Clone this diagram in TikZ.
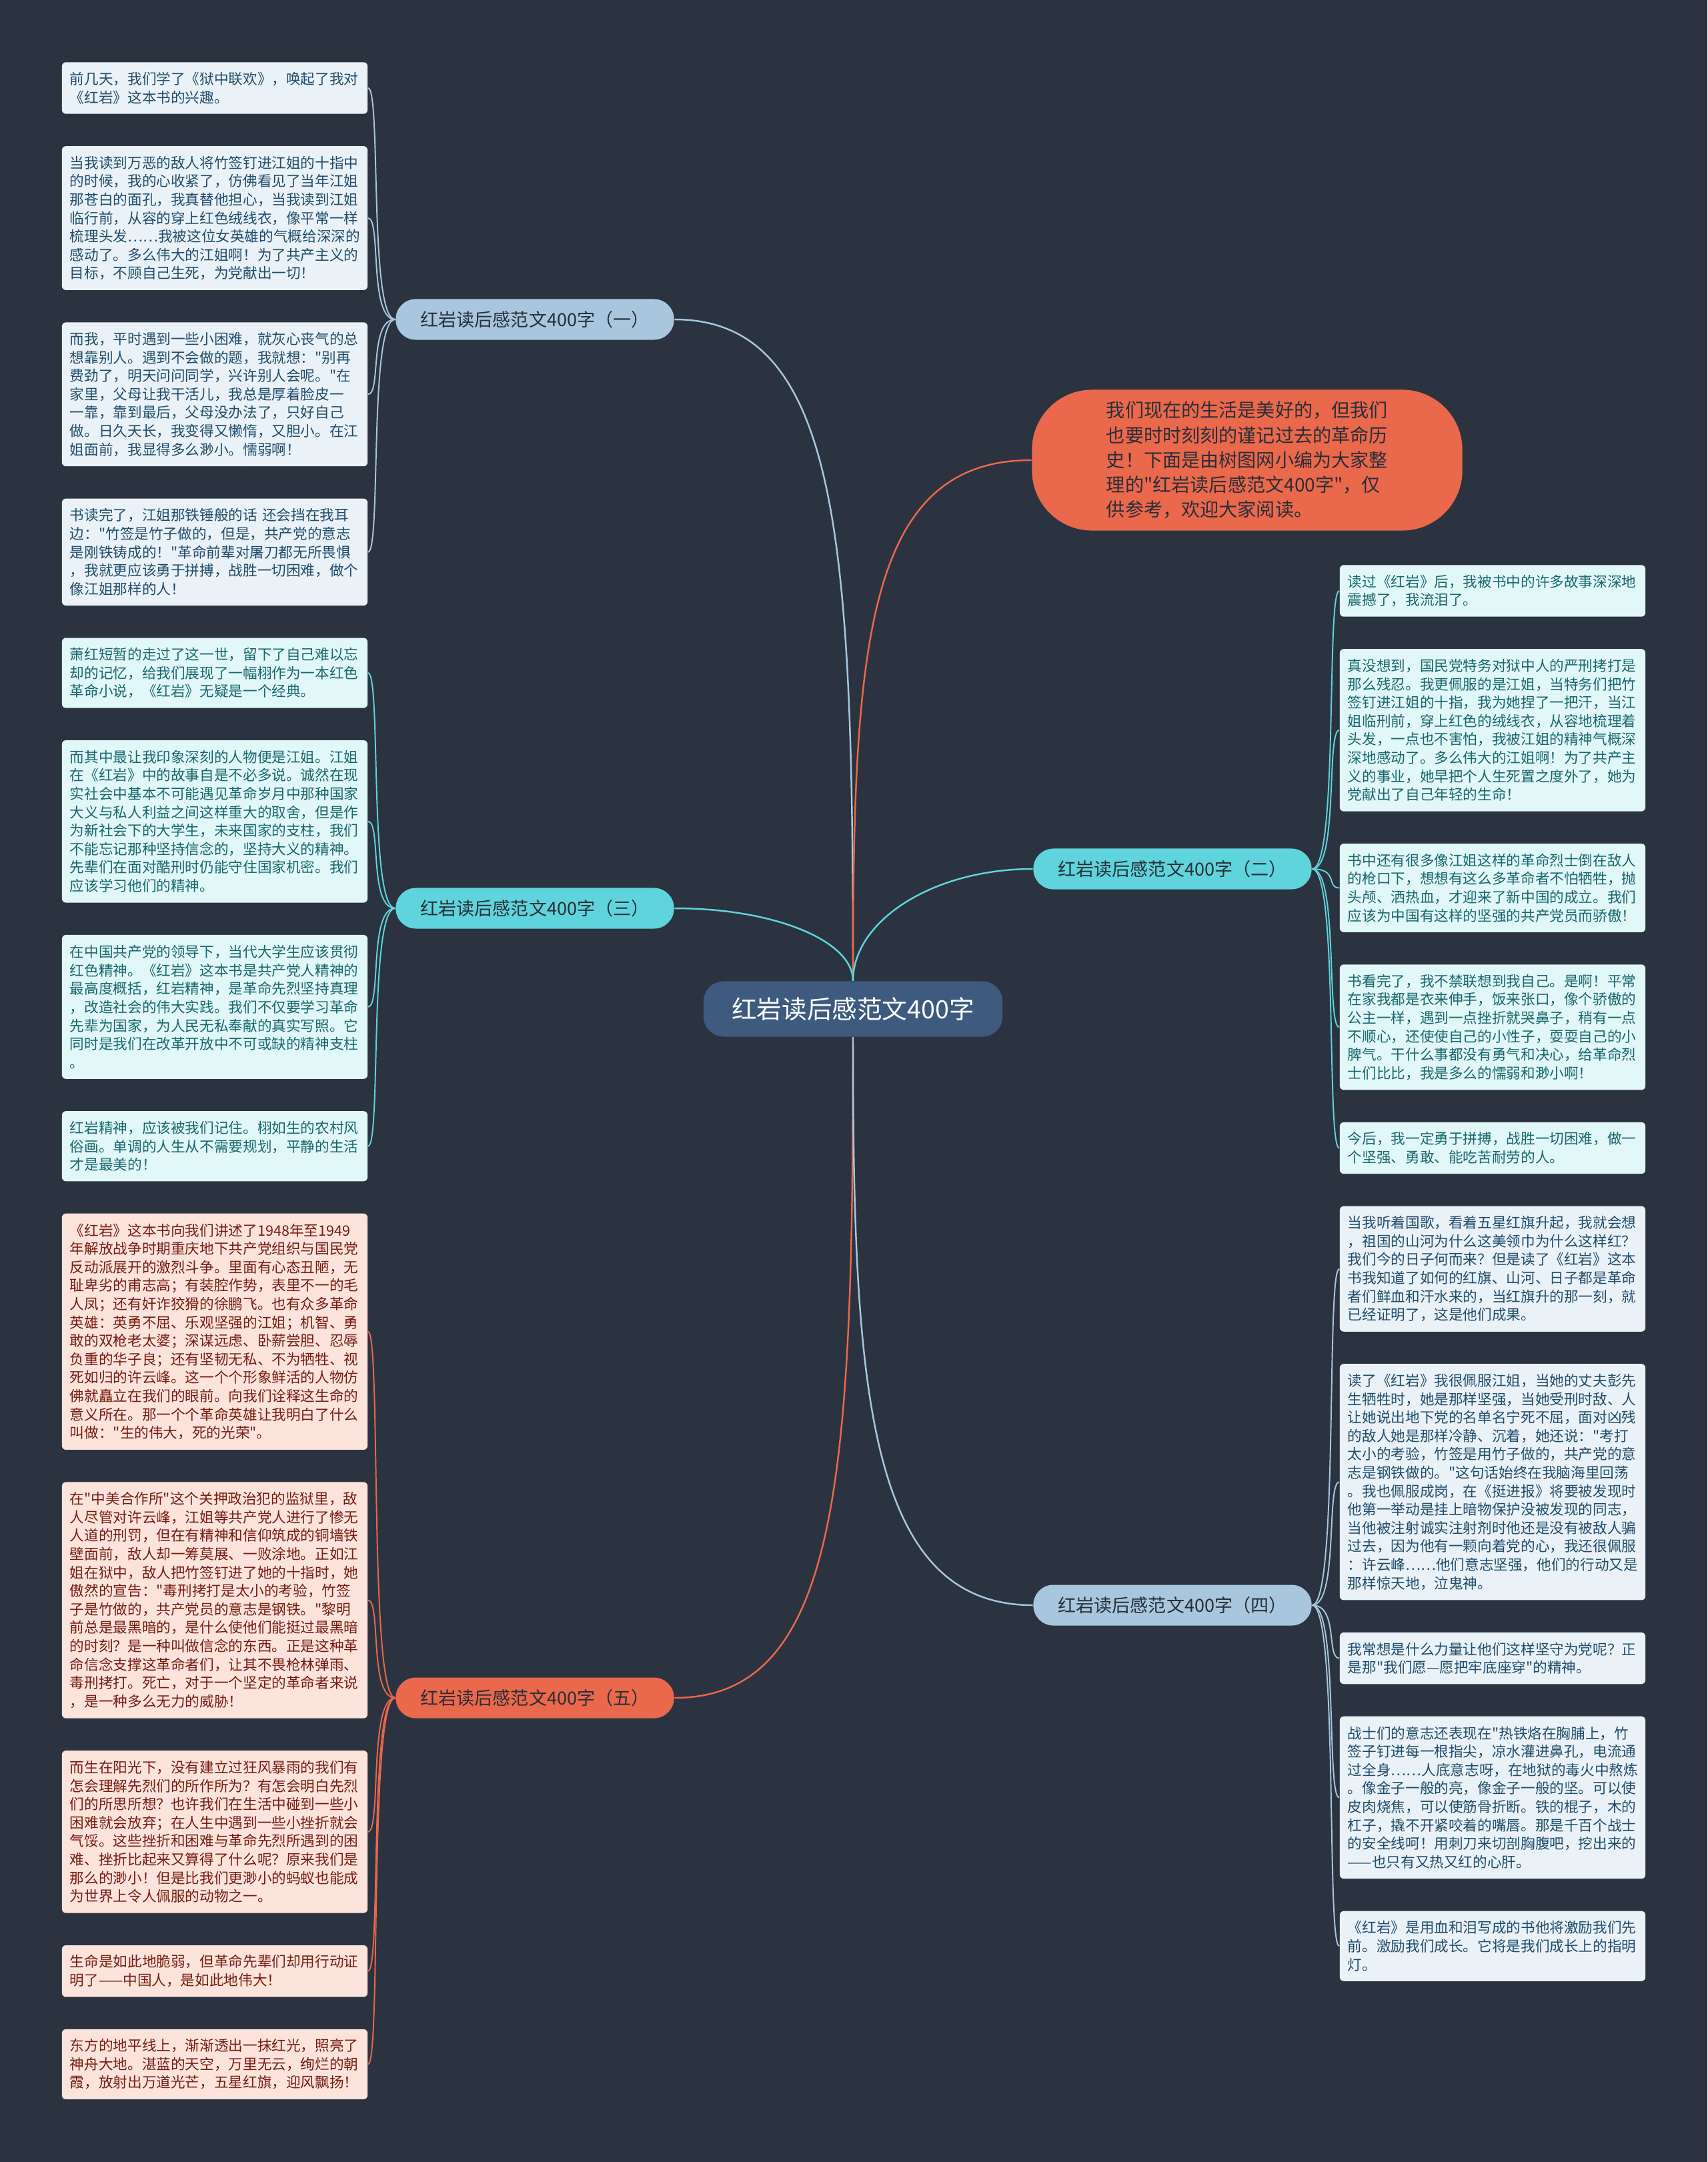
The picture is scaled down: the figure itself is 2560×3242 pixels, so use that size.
\documentclass[tikz,border=0pt]{standalone}
\usepackage{fontspec}
\newfontfamily\cjkfont{Noto Sans CJK SC}
\usepackage{tikz}
\usetikzlibrary{positioning, backgrounds}
\definecolor{bgdark}{RGB}{43,51,64}
\definecolor{rootblue}{RGB}{62,90,126}
\definecolor{branchblue}{RGB}{168,199,222}
\definecolor{branchcyan}{RGB}{96,212,220}
\definecolor{branchred}{RGB}{234,104,76}
\definecolor{leafblue}{RGB}{234,242,248}
\definecolor{leafcyan}{RGB}{226,247,248}
\definecolor{leafred}{RGB}{252,228,220}
\definecolor{textblue}{RGB}{32,76,106}
\definecolor{textcyan}{RGB}{22,104,108}
\definecolor{textred}{RGB}{118,28,16}
\definecolor{textdark}{RGB}{40,46,56}
\tikzset{
  root_node/.style={rectangle, fill=rootblue, text=white, rounded corners=3mm, minimum width=4.48cm, minimum height=0.83cm, inner sep=0pt, font=\cjkfont\fontsize{10.7pt}{12pt}\selectfont},
  intro_node/.style={rectangle, fill=branchred, text=textdark, rounded corners=9mm, minimum width=6.45cm, minimum height=2.11cm, align=left, text width=4.22cm, font=\cjkfont\fontsize{8pt}{10.6pt}\selectfont},
  branch_blue/.style={rectangle, fill=branchblue, text=textdark, rounded corners=3mm, minimum width=4.17cm, minimum height=0.61cm, inner sep=0pt, font=\cjkfont\fontsize{7.7pt}{9pt}\selectfont},
  branch_cyan/.style={branch_blue, fill=branchcyan},
  branch_red/.style={branch_blue, fill=branchred},
  leaf_blue/.style={rectangle, fill=leafblue, text=textblue, rounded corners=0.6mm, align=left, text width=4.34cm, inner xsep=0.12cm, inner ysep=0.06cm, minimum width=4.58cm, font=\cjkfont\fontsize{6.15pt}{7.85pt}\selectfont},
  leaf_cyan/.style={leaf_blue, fill=leafcyan, text=textcyan},
  leaf_red/.style={leaf_blue, fill=leafred, text=textred},
  nlines/.style={minimum height=#1*0.2767cm+0.22cm},
  link_blue/.style={draw=branchblue, line width=0.7pt},
  link_cyan/.style={draw=branchcyan, line width=0.7pt},
  link_red/.style={draw=branchred, line width=0.7pt},
  twig_blue/.style={draw=branchblue, line width=0.55pt},
  twig_cyan/.style={draw=branchcyan, line width=0.55pt},
  twig_red/.style={draw=branchred, line width=0.55pt}
}
\pgfdeclarelayer{bglayer}
\pgfsetlayers{bglayer, background, main}

\begin{document}
\begin{tikzpicture}[x=0.01cm, y=-0.01cm]
      % --- 0. Canvas ---
      \begin{pgfonlayer}{bglayer}
        \fill[bgdark] (0,0) rectangle (2560,3242);
      \end{pgfonlayer}

      % --- 1. Root, intro and branches ---
      \node[root_node] (root) at (1279,1513) {红岩读后感范文400字};
      \node[intro_node] (intro) at (1870,690) {我们现在的生活是美好的，但我们\\也要时时刻刻的谨记过去的革命历\\史！下面是由树图网小编为大家整\\理的"红岩读后感范文400字"，仅\\供参考，欢迎大家阅读。};

      \node[branch_blue] (b1) at (802,479) {红岩读后感范文400字（一）};
      \node[branch_cyan] (b3) at (802,1362) {红岩读后感范文400字（三）};
      \node[branch_red] (b5) at (802,2546) {红岩读后感范文400字（五）};
      \node[branch_cyan] (b2) at (1758,1303) {红岩读后感范文400字（二）};
      \node[branch_blue] (b4) at (1758,2407) {红岩读后感范文400字（四）};

      % --- 2. Left column (one, three, five) ---
      \node[leaf_blue, nlines=2] (l1) at (322,132) {前几天，我们学了《狱中联欢》，唤起了我对\\《红岩》这本书的兴趣。};
      \node[leaf_blue, nlines=7, below=0.47cm of l1] (l2) {当我读到万恶的敌人将竹签钉进江姐的十指中\\的时候，我的心收紧了，仿佛看见了当年江姐\\那苍白的面孔，我真替他担心，当我读到江姐\\临行前，从容的穿上红色绒线衣，像平常一样\\梳理头发……我被这位女英雄的气概给深深的\\感动了。多么伟大的江姐啊！为了共产主义的\\目标，不顾自己生死，为党献出一切！};
      \node[leaf_blue, nlines=7, below=0.47cm of l2] (l3) {而我，平时遇到一些小困难，就灰心丧气的总\\想靠别人。遇到不会做的题，我就想："别再\\费劲了，明天问问同学，兴许别人会呢。"在\\家里，父母让我干活儿，我总是厚着脸皮一\\一靠，靠到最后，父母没办法了，只好自己\\做。日久天长，我变得又懒惰，又胆小。在江\\姐面前，我显得多么渺小。懦弱啊！};
      \node[leaf_blue, nlines=5, below=0.47cm of l3] (l4) {书读完了，江姐那铁锤般的话~还会挡在我耳\\边："竹签是竹子做的，但是，共产党的意志\\是刚铁铸成的！"革命前辈对屠刀都无所畏惧\\，我就更应该勇于拼搏，战胜一切困难，做个\\像江姐那样的人！};

      \node[leaf_cyan, nlines=3, below=0.47cm of l4] (l5) {萧红短暂的走过了这一世，留下了自己难以忘\\却的记忆，给我们展现了一幅栩作为一本红色\\革命小说，《红岩》无疑是一个经典。};
      \node[leaf_cyan, nlines=8, below=0.47cm of l5] (l6) {而其中最让我印象深刻的人物便是江姐。江姐\\在《红岩》中的故事自是不必多说。诚然在现\\实社会中基本不可能遇见革命岁月中那种国家\\大义与私人利益之间这样重大的取舍，但是作\\为新社会下的大学生，未来国家的支柱，我们\\不能忘记那种坚持信念的，坚持大义的精神。\\先辈们在面对酷刑时仍能守住国家机密。我们\\应该学习他们的精神。};
      \node[leaf_cyan, nlines=7, below=0.47cm of l6] (l7) {在中国共产党的领导下，当代大学生应该贯彻\\红色精神。《红岩》这本书是共产党人精神的\\最高度概括，红岩精神，是革命先烈坚持真理\\，改造社会的伟大实践。我们不仅要学习革命\\先辈为国家，为人民无私奉献的真实写照。它\\同时是我们在改革开放中不可或缺的精神支柱\\。};
      \node[leaf_cyan, nlines=3, below=0.47cm of l7] (l8) {红岩精神，应该被我们记住。栩如生的农村风\\俗画。单调的人生从不需要规划，平静的生活\\才是最美的！};

      \node[leaf_red, nlines=12, below=0.47cm of l8] (l9) {《红岩》这本书向我们讲述了1948年至1949\\年解放战争时期重庆地下共产党组织与国民党\\反动派展开的激烈斗争。里面有心态丑陋，无\\耻卑劣的甫志高；有装腔作势，表里不一的毛\\人凤；还有奸诈狡猾的徐鹏飞。也有众多革命\\英雄：英勇不屈、乐观坚强的江姐；机智、勇\\敢的双枪老太婆；深谋远虑、卧薪尝胆、忍辱\\负重的华子良；还有坚韧无私、不为牺牲、视\\死如归的许云峰。这一个个形象鲜活的人物仿\\佛就矗立在我们的眼前。向我们诠释这生命的\\意义所在。那一个个革命英雄让我明白了什么\\叫做："生的伟大，死的光荣"。};
      \node[leaf_red, nlines=12, below=0.47cm of l9] (l10) {在"中美合作所"这个关押政治犯的监狱里，敌\\人尽管对许云峰，江姐等共产党人进行了惨无\\人道的刑罚，但在有精神和信仰筑成的铜墙铁\\壁面前，敌人却一筹莫展、一败涂地。正如江\\姐在狱中，敌人把竹签钉进了她的十指时，她\\傲然的宣告："毒刑拷打是太小的考验，竹签\\子是竹做的，共产党员的意志是钢铁。"黎明\\前总是最黑暗的，是什么使他们能挺过最黑暗\\的时刻？是一种叫做信念的东西。正是这种革\\命信念支撑这革命者们，让其不畏枪林弹雨、\\毒刑拷打。死亡，对于一个坚定的革命者来说\\，是一种多么无力的威胁！};
      \node[leaf_red, nlines=8, below=0.47cm of l10] (l11) {而生在阳光下，没有建立过狂风暴雨的我们有\\怎会理解先烈们的所作所为？有怎会明白先烈\\们的所思所想？也许我们在生活中碰到一些小\\困难就会放弃；在人生中遇到一些小挫折就会\\气馁。这些挫折和困难与革命先烈所遇到的困\\难、挫折比起来又算得了什么呢？原来我们是\\那么的渺小！但是比我们更渺小的蚂蚁也能成\\为世界上令人佩服的动物之一。};
      \node[leaf_red, nlines=2, below=0.47cm of l11] (l12) {生命是如此地脆弱，但革命先辈们却用行动证\\明了——中国人，是如此地伟大！};
      \node[leaf_red, nlines=3, below=0.47cm of l12] (l13) {东方的地平线上，渐渐透出一抹红光，照亮了\\神舟大地。湛蓝的天空，万里无云，绚烂的朝\\霞，放射出万道光芒，五星红旗，迎风飘扬！};

      % --- 3. Right column (two, four) ---
      \node[leaf_cyan, nlines=2] (r1) at (2238,886) {读过《红岩》后，我被书中的许多故事深深地\\震撼了，我流泪了。};
      \node[leaf_cyan, nlines=8, below=0.47cm of r1] (r2) {真没想到，国民党特务对狱中人的严刑拷打是\\那么残忍。我更佩服的是江姐，当特务们把竹\\签钉进江姐的十指，我为她捏了一把汗，当江\\姐临刑前，穿上红色的绒线衣，从容地梳理着\\头发，一点也不害怕，我被江姐的精神气概深\\深地感动了。多么伟大的江姐啊！为了共产主\\义的事业，她早把个人生死置之度外了，她为\\党献出了自己年轻的生命！};
      \node[leaf_cyan, nlines=4, below=0.47cm of r2] (r3) {书中还有很多像江姐这样的革命烈士倒在敌人\\的枪口下，想想有这么多革命者不怕牺牲，抛\\头颅、洒热血，才迎来了新中国的成立。我们\\应该为中国有这样的坚强的共产党员而骄傲！};
      \node[leaf_cyan, nlines=6, below=0.47cm of r3] (r4) {书看完了，我不禁联想到我自己。是啊！平常\\在家我都是衣来伸手，饭来张口，像个骄傲的\\公主一样，遇到一点挫折就哭鼻子，稍有一点\\不顺心，还使使自己的小性子，耍耍自己的小\\脾气。干什么事都没有勇气和决心，给革命烈\\士们比比，我是多么的懦弱和渺小啊！};
      \node[leaf_cyan, nlines=2, below=0.47cm of r4] (r5) {今后，我一定勇于拼搏，战胜一切困难，做一\\个坚强、勇敢、能吃苦耐劳的人。};

      \node[leaf_blue, nlines=6, below=0.47cm of r5] (r6) {当我听着国歌，看着五星红旗升起，我就会想\\，祖国的山河为什么这美领巾为什么这样红？\\我们今的日子何而来？但是读了《红岩》这本\\书我知道了如何的红旗、山河、日子都是革命\\者们鲜血和汗水来的，当红旗升的那一刻，就\\已经证明了，这是他们成果。};
      \node[leaf_blue, nlines=12, below=0.47cm of r6] (r7) {读了《红岩》我很佩服江姐，当她的丈夫彭先\\生牺牲时，她是那样坚强，当她受刑时敌、人\\让她说出地下党的名单名宁死不屈，面对凶残\\的敌人她是那样冷静、沉着，她还说："考打\\太小的考验，竹签是用竹子做的，共产党的意\\志是钢铁做的。"这句话始终在我脑海里回荡\\。我也佩服成岗，在《挺进报》将要被发现时\\他第一举动是挂上暗物保护没被发现的同志，\\当他被注射诚实注射剂时他还是没有被敌人骗\\过去，因为他有一颗向着党的心，我还很佩服\\：许云峰……他们意志坚强，他们的行动又是\\那样惊天地，泣鬼神。};
      \node[leaf_blue, nlines=2, below=0.47cm of r7] (r8) {我常想是什么力量让他们这样坚守为党呢？正\\是那"我们愿—愿把牢底座穿"的精神。};
      \node[leaf_blue, nlines=8, below=0.47cm of r8] (r9) {战士们的意志还表现在"热铁烙在胸脯上，竹\\签子钉进每一根指尖，凉水灌进鼻孔，电流通\\过全身……人底意志呀，在地狱的毒火中熬炼\\。像金子一般的亮，像金子一般的坚。可以使\\皮肉烧焦，可以使筋骨折断。铁的棍子，木的\\杠子，撬不开紧咬着的嘴唇。那是千百个战士\\的安全线呵！用刺刀来切剖胸腹吧，挖出来的\\——也只有又热又红的心肝。};
      \node[leaf_blue, nlines=3, below=0.47cm of r9] (r10) {《红岩》是用血和泪写成的书他将激励我们先\\前。激励我们成长。它将是我们成长上的指明\\灯。};

      % --- 4. Connectors ---
      \begin{scope}[on background layer]
        % root to branches
        \draw[link_blue] (root.north) .. controls +(0,-650) and +(250,0) .. (b1.east);
        \draw[link_cyan] (root.north) .. controls +(0,-60) and +(150,0) .. (b3.east);
        \draw[link_red] (root.south) .. controls +(0,650) and +(250,0) .. (b5.east);
        \draw[link_red] (root.north) .. controls +(0,-500) and +(-250,0) .. (intro.west);
        \draw[link_cyan] (root.north) .. controls +(0,-90) and +(-150,0) .. (b2.west);
        \draw[link_blue] (root.south) .. controls +(0,520) and +(-250,0) .. (b4.west);

        % branch one
        \draw[twig_blue] (b1.west) .. controls +(-40,0) and +(20,0) .. (l1.east);
        \draw[twig_blue] (b1.west) .. controls +(-40,0) and +(20,0) .. (l2.east);
        \draw[twig_blue] (b1.west) .. controls +(-40,0) and +(20,0) .. (l3.east);
        \draw[twig_blue] (b1.west) .. controls +(-40,0) and +(20,0) .. (l4.east);
        % branch three
        \draw[twig_cyan] (b3.west) .. controls +(-40,0) and +(20,0) .. (l5.east);
        \draw[twig_cyan] (b3.west) .. controls +(-40,0) and +(20,0) .. (l6.east);
        \draw[twig_cyan] (b3.west) .. controls +(-40,0) and +(20,0) .. (l7.east);
        \draw[twig_cyan] (b3.west) .. controls +(-40,0) and +(20,0) .. (l8.east);
        % branch five
        \draw[twig_red] (b5.west) .. controls +(-40,0) and +(20,0) .. (l9.east);
        \draw[twig_red] (b5.west) .. controls +(-40,0) and +(20,0) .. (l10.east);
        \draw[twig_red] (b5.west) .. controls +(-40,0) and +(20,0) .. (l11.east);
        \draw[twig_red] (b5.west) .. controls +(-40,0) and +(20,0) .. (l12.east);
        \draw[twig_red] (b5.west) .. controls +(-40,0) and +(20,0) .. (l13.east);
        % branch two
        \draw[twig_cyan] (b2.east) .. controls +(40,0) and +(-20,0) .. (r1.west);
        \draw[twig_cyan] (b2.east) .. controls +(40,0) and +(-20,0) .. (r2.west);
        \draw[twig_cyan] (b2.east) .. controls +(40,0) and +(-20,0) .. (r3.west);
        \draw[twig_cyan] (b2.east) .. controls +(40,0) and +(-20,0) .. (r4.west);
        \draw[twig_cyan] (b2.east) .. controls +(40,0) and +(-20,0) .. (r5.west);
        % branch four
        \draw[twig_blue] (b4.east) .. controls +(40,0) and +(-20,0) .. (r6.west);
        \draw[twig_blue] (b4.east) .. controls +(40,0) and +(-20,0) .. (r7.west);
        \draw[twig_blue] (b4.east) .. controls +(40,0) and +(-20,0) .. (r8.west);
        \draw[twig_blue] (b4.east) .. controls +(40,0) and +(-20,0) .. (r9.west);
        \draw[twig_blue] (b4.east) .. controls +(40,0) and +(-20,0) .. (r10.west);
      \end{scope}
\end{tikzpicture}
\end{document}
